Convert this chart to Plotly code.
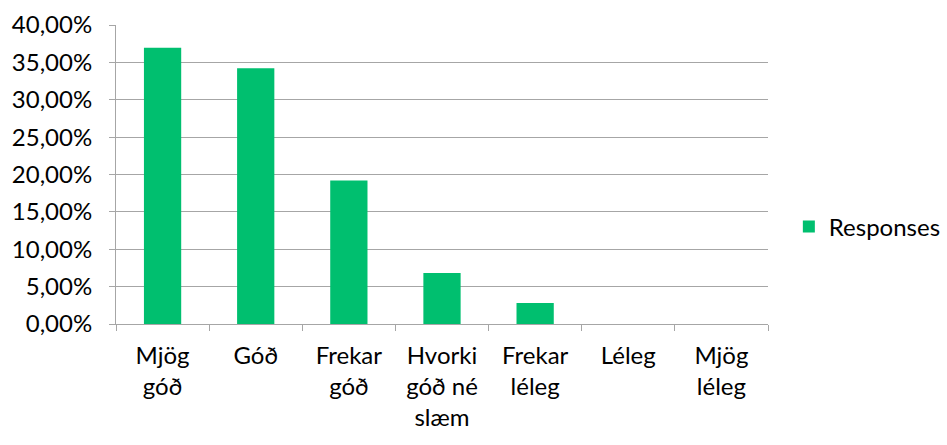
import plotly.graph_objects as go

categories = ["Mjög<br>góð", "Góð", "Frekar<br>góð", "Hvorki<br>góð né<br>slæm", "Frekar<br>léleg", "Léleg", "Mjög<br>léleg"]
responses = [0.3697, 0.3420, 0.1919, 0.0683, 0.0281, 0.0, 0.0]
y_ticks = [0, 0.05, 0.10, 0.15, 0.20, 0.25, 0.30, 0.35, 0.40]

FONT = "Lato"
GREEN = "#00BF6F"
GRID = "#A6A6A6"
FS = 24

fig = go.Figure()
fig.add_trace(go.Bar(
    x=categories, y=responses, name="Responses",
    marker=dict(color=GREEN, line=dict(width=0)),
    width=0.4,
))

fig.update_layout(
    width=947, height=445,
    margin=dict(l=116, r=179, t=25, b=121),
    plot_bgcolor="white", paper_bgcolor="white",
    separators=", ",
    font=dict(family=FONT, size=FS, color="#000000"),
    showlegend=True,
    legend=dict(xref="container", yref="container",
                x=0.833, y=0.49, xanchor="left", yanchor="middle",
                font=dict(family=FONT, size=FS, color="#000000"),
                bgcolor="rgba(0,0,0,0)"),
)
fig.update_xaxes(
    automargin=False,
    showline=True, linecolor=GRID, linewidth=1,
    ticks="outside", tickson="boundaries", ticklen=6, tickcolor=GRID,
    ticklabelstandoff=10,
    showgrid=False, tickfont=dict(family=FONT, size=FS, color="#000000"),
)
fig.update_yaxes(
    automargin=False,
    range=[0, 0.40], tickvals=y_ticks, tickformat=".2%",
    showline=True, linecolor=GRID, linewidth=1,
    ticks="outside", ticklen=6, tickcolor=GRID,
    ticklabelstandoff=12,
    showgrid=True, gridcolor=GRID, gridwidth=1,
    zeroline=False,
    tickfont=dict(family=FONT, size=FS, color="#000000"),
)

fig.write_html("out.html", config={"displayModeBar": False},
               post_script="document.body.style.margin='0';document.body.style.overflow='hidden';")
